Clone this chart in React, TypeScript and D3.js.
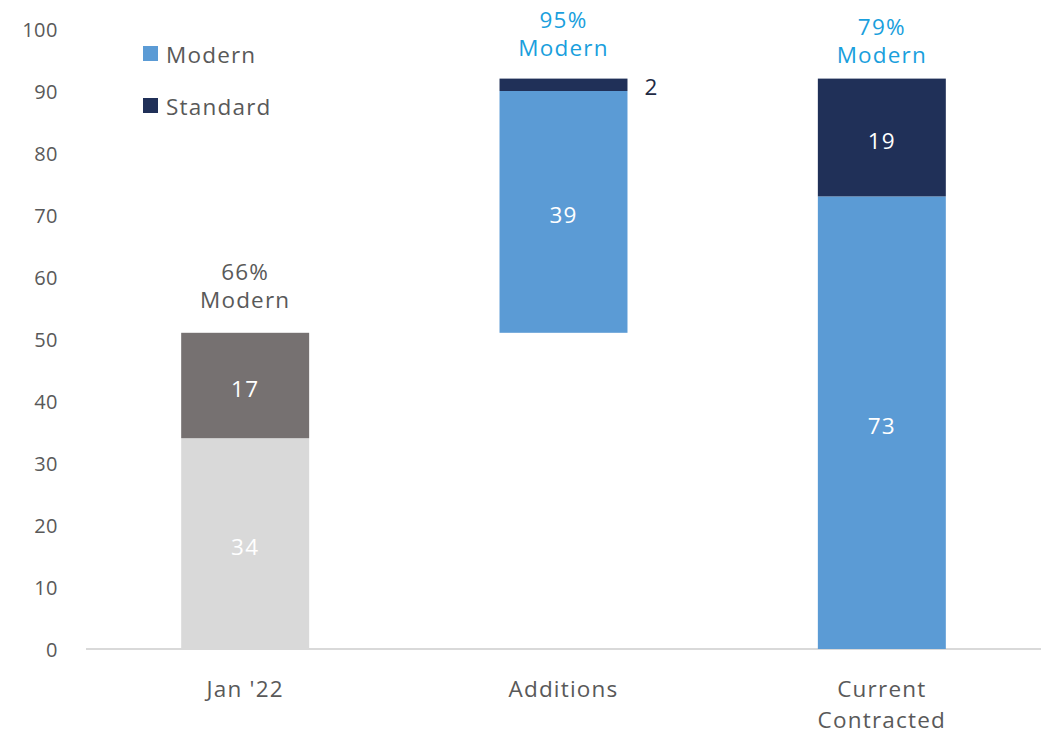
import React from "react";
import * as d3 from "d3";

const categories = ["Jan '22", "Additions", "Current Contracted"];
const categoryLines = [["Jan '22"], ["Additions"], ["Current", "Contracted"]];
const baseValues = [0, 51, 0];
const lowerValues = [34, 39, 73];
const upperValues = [17, 2, 19];
const lowerKinds = ["oldLight", "modern", "modern"];
const upperKinds = ["oldDark", "standard", "standard"];
const annotationPct = ["66%", "95%", "79%"];
const yTicks = [0, 10, 20, 30, 40, 50, 60, 70, 80, 90, 100];
const legendItems = ["Modern", "Standard"];

const colors: Record<string, string> = {
  oldLight: "#d9d9d9",
  oldDark: "#767171",
  modern: "#5b9bd5",
  standard: "#203058",
};

const W = 1048;
const H = 735;
const FONT = "'Open Sans', 'Noto Sans', sans-serif";
const FS = 22.5;
const LS = 1.2;

export default function App() {
  const y = d3.scaleLinear().domain([0, 100]).range([649, 29]);
  const x = d3
    .scaleBand<string>()
    .domain(categories)
    .range([86, 1041])
    .paddingInner(0.598)
    .paddingOuter(0.299);
  const bw = x.bandwidth();
  const annOffsets = [33, 31, 24];
  const annColors = ["#595959", "#1a9fdd", "#1a9fdd"];

  return (
    <svg
      width={W}
      height={H}
      style={{ position: "absolute", left: 0, top: 0, background: "#fff" }}
      fontFamily={FONT}
    >
      {yTicks.map((t) => (
        <text
          key={t}
          x={58}
          y={y(t)}
          textAnchor="end"
          dominantBaseline="central"
          fontSize={20}
          letterSpacing={0.5}
          fill="#595959"
        >
          {t}
        </text>
      ))}
      <line x1={86} x2={1041} y1={y(0)} y2={y(0)} stroke="#d9d9d9" strokeWidth={2} />
      {categories.map((c, i) => {
        const x0 = x(c)!;
        const cx = x0 + bw / 2;
        const b = baseValues[i];
        const lo = lowerValues[i];
        const up = upperValues[i];
        const top = b + lo + up;
        return (
          <g key={c}>
            <rect
              x={x0}
              width={bw}
              y={y(b + lo)}
              height={y(b) - y(b + lo)}
              fill={colors[lowerKinds[i]]}
            />
            <rect
              x={x0}
              width={bw}
              y={y(top)}
              height={y(b + lo) - y(top)}
              fill={colors[upperKinds[i]]}
            />
            <text
              x={cx}
              y={y(b + lo / 2) + 3}
              textAnchor="middle"
              dominantBaseline="central"
              fontSize={FS}
              letterSpacing={LS}
              fill="#ffffff"
            >
              {lo}
            </text>
            {up >= 5 ? (
              <text
                x={cx}
                y={y(b + lo + up / 2) + 3}
                textAnchor="middle"
                dominantBaseline="central"
                fontSize={FS}
                letterSpacing={LS}
                fill="#ffffff"
              >
                {up}
              </text>
            ) : (
              <text
                x={x0 + bw + 17}
                y={y(top) + 8}
                textAnchor="start"
                dominantBaseline="central"
                fontSize={FS}
                letterSpacing={LS}
                fill="#1f2a44"
              >
                {up}
              </text>
            )}
            <text
              x={cx}
              y={y(top) - annOffsets[i] - 28}
              textAnchor="middle"
              dominantBaseline="central"
              fontSize={FS}
              letterSpacing={LS}
              fill={annColors[i]}
            >
              {annotationPct[i]}
            </text>
            <text
              x={cx}
              y={y(top) - annOffsets[i]}
              textAnchor="middle"
              dominantBaseline="central"
              fontSize={FS}
              letterSpacing={LS}
              fill={annColors[i]}
            >
              Modern
            </text>
            {categoryLines[i].map((ln, j) => (
              <text
                key={ln}
                x={cx}
                y={688 + j * 31}
                textAnchor="middle"
                dominantBaseline="central"
                fontSize={FS}
                letterSpacing={LS}
                fill="#595959"
              >
                {ln}
              </text>
            ))}
          </g>
        );
      })}
      {legendItems.map((l, i) => (
        <g key={l} transform={`translate(143, ${46 + i * 52})`}>
          <rect width={15} height={15} fill={i === 0 ? colors.modern : colors.standard} />
          <text
            x={23}
            y={8}
            dominantBaseline="central"
            fontSize={FS}
            letterSpacing={LS}
            fill="#595959"
          >
            {l}
          </text>
        </g>
      ))}
    </svg>
  );
}
